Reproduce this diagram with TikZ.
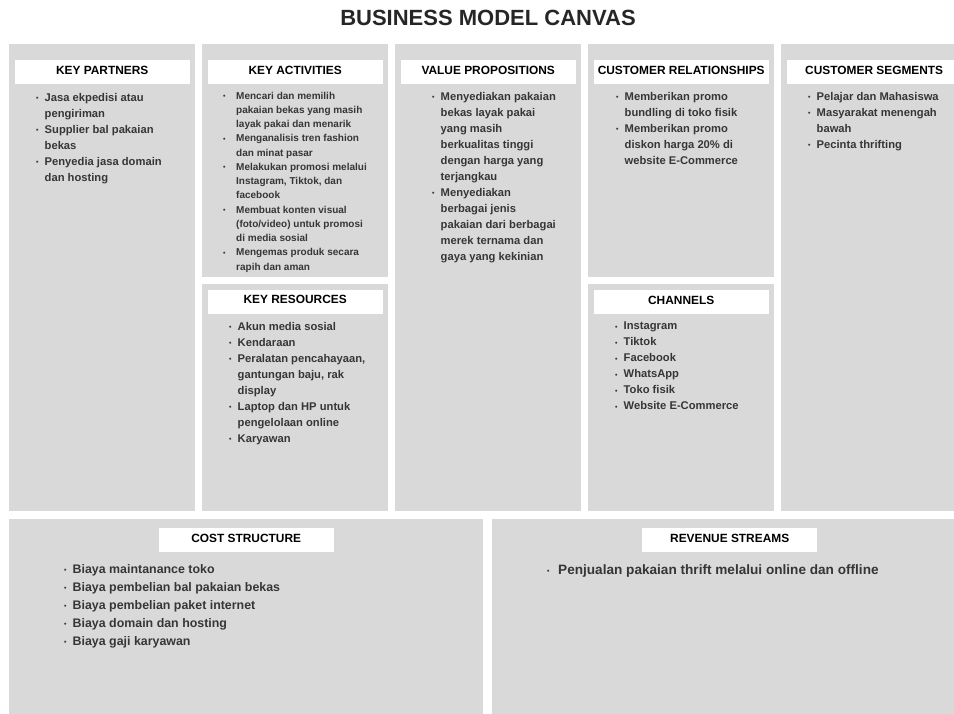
\documentclass[tikz,border=0pt]{standalone}
\usepackage{fontspec}
\setmainfont{Liberation Sans}
\usetikzlibrary{positioning}
\definecolor{panel}{HTML}{D9D9D9}
\definecolor{ink}{HTML}{363636}
\newcommand\bul[1][8.5pt]{\makebox[#1][l]{\raisebox{0.8pt}{\fontsize{7}{7}\selectfont\textbullet}}}
\newcommand\ind[1][8.5pt]{\hspace*{#1}}

\begin{document}
\begin{tikzpicture}[x=1pt,y=-1pt,
    panel/.style={fill=panel,inner sep=0,anchor=north west},
    head/.style={fill=white,minimum width=175,minimum height=24,inner sep=0,
      text height=8.4,text depth=4,font=\bfseries\fontsize{11.9}{12}\selectfont},
    items/.style={anchor=north west,inner sep=0,align=left,text=ink,
      font=\bfseries\fontsize{11.2}{16}\selectfont}]
  \useasboundingbox (0,0) rectangle (954,713);
  \node[font=\bfseries\fontsize{22}{24}\selectfont,text=black!85] (title) at (488,18) {BUSINESS MODEL CANVAS};
  % top row
  \node[panel,minimum width=186,minimum height=467] (kp) at (9,44) {};
  \node[panel,minimum width=186,minimum height=233] (ka) at (202,44) {};
  \node[panel,minimum width=186,minimum height=227] (kr) at (202,284) {};
  \node[panel,minimum width=186,minimum height=467] (vp) at (395,44) {};
  \node[panel,minimum width=186,minimum height=233] (cr) at (588,44) {};
  \node[panel,minimum width=186,minimum height=227] (ch) at (588,284) {};
  \node[panel,minimum width=186,minimum height=467] (cs) at (781,44) {};
  % bottom row
  \node[panel,minimum width=474,minimum height=200] (cost) at (9,519) {};
  \node[panel,minimum width=475,minimum height=200] (rev) at (492,519) {};

  \node[head,below=16pt of kp.north] (kphead) {KEY PARTNERS};
  \node[head,below=16pt of ka.north] (kahead) {KEY ACTIVITIES};
  \node[head,below=5.5pt of kr.north] (krhead) {KEY RESOURCES};
  \node[head,below=16pt of vp.north] (vphead) {VALUE PROPOSITIONS};
  \node[head,below=16pt of cr.north] (crhead) {CUSTOMER RELATIONSHIPS};
  \node[head,below=6pt of ch.north] (chhead) {CHANNELS};
  \node[head,below=16pt of cs.north] (cshead) {CUSTOMER SEGMENTS};
  \node[head,below=9pt of cost.north] (costhead) {COST STRUCTURE};
  \node[head,below=9pt of rev.north] (revhead) {REVENUE STREAMS};

  \node[items] (kpitems) at (36,93) {\bul Jasa ekpedisi atau\\ \ind pengiriman\\
    \bul Supplier bal pakaian\\ \ind bekas\\ \bul Penyedia jasa domain\\ \ind dan hosting};
  \node[items,font=\bfseries\fontsize{10}{14.25}\selectfont] (kaitems) at (223,91.7) {%
    \bul[13pt]Mencari dan memilih\\ \ind[13pt]pakaian bekas yang masih\\ \ind[13pt]layak pakai dan menarik\\
    \bul[13pt]Menganalisis tren fashion\\ \ind[13pt]dan minat pasar\\
    \bul[13pt]Melakukan promosi melalui\\ \ind[13pt]Instagram, Tiktok, dan\\ \ind[13pt]facebook\\
    \bul[13pt]Membuat konten visual\\ \ind[13pt](foto/video) untuk promosi\\ \ind[13pt]di media sosial\\
    \bul[13pt]Mengemas produk secara\\ \ind[13pt]rapih dan aman};
  \node[items] (kritems) at (229,322) {\bul Akun media sosial\\ \bul Kendaraan\\
    \bul Peralatan pencahayaan,\\ \ind gantungan baju, rak\\ \ind display\\
    \bul Laptop dan HP untuk\\ \ind pengelolaan online\\ \bul Karyawan};
  \node[items] (vpitems) at (432,92) {\bul Menyediakan pakaian\\ \ind bekas layak pakai\\ \ind yang masih\\
    \ind berkualitas tinggi\\ \ind dengan harga yang\\ \ind terjangkau\\
    \bul Menyediakan\\ \ind berbagai jenis\\ \ind pakaian dari berbagai\\ \ind merek ternama dan\\ \ind gaya yang kekinian};
  \node[items] (critems) at (616,92) {\bul Memberikan promo\\ \ind bundling di toko fisik\\
    \bul Memberikan promo\\ \ind diskon harga 20\% di\\ \ind website E-Commerce};
  \node[items] (csitems) at (808,92) {\bul Pelajar dan Mahasiswa\\ \bul Masyarakat menengah\\ \ind bawah\\ \bul Pecinta thrifting};
  \node[items] (chitems) at (615,322) {\bul Instagram\\ \bul Tiktok\\ \bul Facebook\\ \bul WhatsApp\\ \bul Toko fisik\\ \bul Website E-Commerce};
  \node[items,font=\bfseries\fontsize{12.4}{18}\selectfont] (costitems) at (64,564) {\bul Biaya maintanance toko\\
    \bul Biaya pembelian bal pakaian bekas\\ \bul Biaya pembelian paket internet\\ \bul Biaya domain dan hosting\\ \bul Biaya gaji karyawan};
  \node[items,font=\bfseries\fontsize{13.6}{18}\selectfont] (revitems) at (547,564) {\bul[11pt]Penjualan pakaian thrift melalui online dan offline};
\end{tikzpicture}
\end{document}
